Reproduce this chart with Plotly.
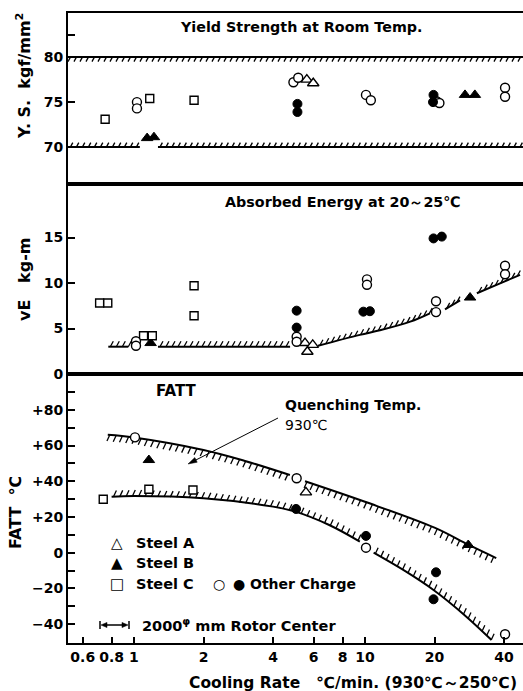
import numpy as np
import plotly.graph_objects as go

# ---------------- data ----------------
X_TICKS = [0.6, 0.8, 1, 2, 4, 6, 8, 10, 20, 40]
X_TICK_TEXT = ["0.6", "0.8", "1", "2", "4", "6", "8", "10", "20", "40"]

YS_TICKS = [70, 75, 80]
YS_TICK_TEXT = ["70", "75", "80"]
YS_MINOR = [82.5]
VE_TICKS = [0, 5, 10, 15]
VE_TICK_TEXT = ["0", "5", "10", "15"]
FATT_TICKS = [-40, -20, 0, 20, 40, 60, 80]
FATT_TICK_TEXT = ["\u221240", "\u221220", "0", "+20", "+40", "+60", "+80"]
FATT_MINOR = [-30, -10, 10, 30, 50, 70, 90]

# Panel 1 : yield strength (kgf/mm2)
YS_A_X = [5.6, 5.97]
YS_A_Y = [77.5, 77.1]
YS_B_X = [1.14, 1.22, 27.1, 29.9]
YS_B_Y = [71.0, 71.1, 75.8, 75.8]
YS_C_X = [0.75, 1.17, 1.82]
YS_C_Y = [73.1, 75.4, 75.2]
YS_OPEN_X = [1.03, 1.03, 4.9, 5.14, 10.1, 10.6, 20.4, 21.0, 40.4, 40.4]
YS_OPEN_Y = [75.0, 74.3, 77.2, 77.7, 75.8, 75.2, 75.1, 74.9, 76.6, 75.6]
YS_FILL_X = [5.1, 5.1, 19.8, 19.7]
YS_FILL_Y = [74.8, 73.9, 75.8, 75.0]
YS_UPPER = 80
YS_LOWER = 70
YS_UPPER_SEGS = [[0.52, 48.3]]
YS_LOWER_SEGS = [[0.52, 1.06], [1.27, 48.3]]

# Panel 2 : absorbed energy (kg-m)
VE_A_X = [5.5, 5.94, 5.63]
VE_A_Y = [3.4, 3.2, 2.45]
VE_B_X = [1.18, 28.5]
VE_B_Y = [3.4, 8.4]
VE_C_X = [0.71, 0.77, 1.10, 1.20, 1.82, 1.82]
VE_C_Y = [7.8, 7.8, 4.2, 4.2, 9.7, 6.4]
VE_OPEN_X = [1.02, 1.02, 5.06, 5.06, 10.2, 10.2, 20.3, 20.3, 40.4, 40.4]
VE_OPEN_Y = [3.6, 3.1, 4.1, 3.55, 10.4, 9.8, 8.0, 6.8, 11.9, 10.96]
VE_FILL_X = [5.06, 5.06, 9.84, 10.5, 19.8, 21.5]
VE_FILL_Y = [6.96, 5.1, 6.85, 6.9, 14.9, 15.1]
VE_LIMIT_SEGS = [
    ([0.774, 0.945], [3.0, 3.0]),
    ([1.27, 4.74], [3.0, 3.0]),
    ([6.26, 9.5, 11.6, 15.7, 19.1], [3.1, 4.3, 4.8, 5.75, 6.67]),
    ([22.2, 25.8], [7.1, 8.1]),
    ([30.5, 38.0, 46.9], [8.87, 9.9, 10.9]),
]

# Panel 3 : FATT (deg C)
FATT_A_X = [5.55]
FATT_A_Y = [33.8]
FATT_B_X = [1.16, 28.0]
FATT_B_Y = [51.9, 4.3]
FATT_C_X = [0.736, 1.16, 1.80]
FATT_C_Y = [29.9, 35.5, 35.1]
FATT_OPEN_X = [1.01, 5.06, 10.1, 40.4]
FATT_OPEN_Y = [64.6, 41.7, 2.8, -45.7]
FATT_FILL_X = [5.03, 10.1, 20.3, 19.8]
FATT_FILL_Y = [24.5, 9.4, -11.0, -26.1]
FATT_UPPER_SEGS = [
    ([0.77, 1.0, 2.0, 3.0, 4.73], [66.0, 64.5, 57.5, 51.5, 43.5]),
    ([5.5, 10.0, 20.0, 28.0, 37.0], [40.0, 28.5, 14.0, 4.5, -3.0]),
]
FATT_LOWER_SEGS = [
    ([0.80, 1.0, 2.0, 4.0, 5.0, 7.0, 9.5], [31.4, 31.8, 30.5, 25.8, 23.0, 15.5, 6.2]),
    ([10.9, 15.0, 19.8, 27.0, 35.3], [0.0, -10.5, -20.9, -35.0, -48.9]),
]

# ---------------- geometry ----------------
FIG_W, FIG_H = 523, 691
ML, MR, MT, MB = 68, 0, 13, 48
PW = FIG_W - ML - MR
PH = FIG_H - MT - MB
DEC = 231.0  # px per decade
XR = [np.log10(0.518), np.log10(0.518) + PW / DEC]

# (top px, bottom px, low value, high value)
PAN1 = (13, 184, 65.9, 84.9)
PAN2 = (184, 374, 0.0, 20.88)
PAN3 = (374, 643, -50.6, 100.1)

FONT = "DejaVu Sans"


def dom(p):
    return [(FIG_H - MB - p[1]) / PH, (FIG_H - MB - p[0]) / PH]


def px_x(x):
    return ML + (np.log10(x) - XR[0]) / (XR[1] - XR[0]) * PW


def x_px(px):
    return 10 ** (XR[0] + (px - ML) / PW * (XR[1] - XR[0]))


def py_y(y, p):
    top, bot, lo, hi = p
    return bot - (y - lo) / (hi - lo) * (bot - top)


def y_py(py, p):
    top, bot, lo, hi = p
    return lo + (bot - py) / (bot - top) * (hi - lo)


def hatch(xs, ys, p, side, spacing=6.3, dx=2.6, dy=5.0, start=2.0):
    P = np.array([[px_x(x), py_y(y, p)] for x, y in zip(xs, ys)])
    d = np.hypot(*np.diff(P, axis=0).T)
    cum = np.concatenate([[0], np.cumsum(d)])
    s = np.arange(start, cum[-1], spacing)
    hx = np.interp(s, cum, P[:, 0])
    hy = np.interp(s, cum, P[:, 1])
    sg = 1 if side == "above" else -1
    X, Y = [], []
    for a, b in zip(hx, hy):
        X += [x_px(a), x_px(a + sg * dx), None]
        Y += [y_py(b, p), y_py(b - sg * dy, p), None]
    return X, Y


fig = go.Figure()

AX = {1: ("x", "y", PAN1), 2: ("x2", "y2", PAN2), 3: ("x3", "y3", PAN3)}


def add_curve(xs, ys, k, side, spacing, dx, dy, shape="spline"):
    xa, ya, p = AX[k]
    fig.add_trace(go.Scatter(x=xs, y=ys, mode="lines", xaxis=xa, yaxis=ya,
                             line=dict(color="black", width=2, shape=shape),
                             hoverinfo="skip", showlegend=False))
    hx, hy = hatch(xs, ys, p, side, spacing, dx, dy)
    fig.add_trace(go.Scatter(x=hx, y=hy, mode="lines", xaxis=xa, yaxis=ya,
                             line=dict(color="black", width=1.3),
                             hoverinfo="skip", showlegend=False))


# panel 1 limits
for seg in YS_UPPER_SEGS:
    add_curve(seg, [YS_UPPER] * len(seg), 1, "below", 6.0, 2.4, 4.5, "linear")
for seg in YS_LOWER_SEGS:
    add_curve(seg, [YS_LOWER] * len(seg), 1, "above", 6.0, 2.4, 4.5, "linear")
# panel 2 limit
for sx, sy in VE_LIMIT_SEGS:
    add_curve(sx, sy, 2, "above", 6.0, 3.0, 5.5)
# panel 3 limits
for sx, sy in FATT_UPPER_SEGS:
    add_curve(sx, sy, 3, "below", 6.3, 2.8, 6.0)
for sx, sy in FATT_LOWER_SEGS:
    add_curve(sx, sy, 3, "above", 6.3, 2.8, 6.0)

OPEN = dict(color="white", line=dict(color="black", width=1.4))
FILL = dict(color="black", line=dict(color="black", width=1))
STY = {
    "A": dict(symbol="triangle-up", size=10, **OPEN),
    "B": dict(symbol="triangle-up", size=10, **FILL),
    "C": dict(symbol="square", size=8, **OPEN),
    "O": dict(symbol="circle", size=9, **OPEN),
    "F": dict(symbol="circle", size=9, **FILL),
}

SERIES = {
    1: [("A", YS_A_X, YS_A_Y), ("B", YS_B_X, YS_B_Y), ("C", YS_C_X, YS_C_Y),
        ("O", YS_OPEN_X, YS_OPEN_Y), ("F", YS_FILL_X, YS_FILL_Y)],
    2: [("A", VE_A_X, VE_A_Y), ("B", VE_B_X, VE_B_Y), ("C", VE_C_X, VE_C_Y),
        ("O", VE_OPEN_X, VE_OPEN_Y), ("F", VE_FILL_X, VE_FILL_Y)],
    3: [("A", FATT_A_X, FATT_A_Y), ("B", FATT_B_X, FATT_B_Y), ("C", FATT_C_X, FATT_C_Y),
        ("O", FATT_OPEN_X, FATT_OPEN_Y), ("F", FATT_FILL_X, FATT_FILL_Y)],
}
for k, lst in SERIES.items():
    xa, ya, _ = AX[k]
    for key, xs, ys in lst:
        fig.add_trace(go.Scatter(x=xs, y=ys, mode="markers", xaxis=xa, yaxis=ya,
                                 marker=STY[key], showlegend=False, cliponaxis=False))

TICKFONT = dict(family=FONT, size=14, color="black", weight="bold")
MINOR = dict(ticks="inside", ticklen=7, tickwidth=1.5, tickcolor="black", showgrid=False)
common_x = dict(type="log", range=XR, showgrid=False, zeroline=False, showline=True,
                linecolor="black", linewidth=2, mirror=True, domain=[0, 1])
common_y = dict(showgrid=False, zeroline=False, showline=True, linecolor="black",
                linewidth=2, ticks="inside", ticklen=7, tickwidth=1.5, tickcolor="black",
                tickfont=TICKFONT)

fig.update_layout(
    width=FIG_W, height=FIG_H,
    margin=dict(l=ML, r=MR, t=MT, b=MB),
    paper_bgcolor="white", plot_bgcolor="white",
    showlegend=False,
    xaxis=dict(**common_x, anchor="y", ticks="", showticklabels=False),
    xaxis2=dict(**common_x, anchor="y2", ticks="", showticklabels=False),
    xaxis3=dict(**common_x, anchor="y3", ticks="inside", ticklen=6, tickwidth=1.5,
                tickcolor="black", tickvals=X_TICKS, ticktext=X_TICK_TEXT, tickfont=TICKFONT),
    yaxis=dict(**common_y, anchor="x", domain=dom(PAN1), range=[PAN1[2], PAN1[3]],
               tickvals=YS_TICKS, ticktext=YS_TICK_TEXT,
               minor=dict(**MINOR, tickmode="array", tickvals=YS_MINOR)),
    yaxis2=dict(**common_y, anchor="x2", domain=dom(PAN2), range=[PAN2[2], PAN2[3]],
                tickvals=VE_TICKS, ticktext=VE_TICK_TEXT),
    yaxis3=dict(**common_y, anchor="x3", domain=dom(PAN3), range=[PAN3[2], PAN3[3]],
                tickvals=FATT_TICKS, ticktext=FATT_TICK_TEXT,
                minor=dict(**MINOR, tickmode="array", tickvals=FATT_MINOR)),
)


def pxp(px):
    return (px - ML) / PW


def pyp(py):
    return (FIG_H - MB - py) / PH


def ann(text, px, py, size=13, xanchor="center", bold=True, angle=0):
    return dict(text=text, x=pxp(px), y=pyp(py), xref="paper", yref="paper",
                showarrow=False, xanchor=xanchor, yanchor="middle", textangle=angle,
                font=dict(family=FONT, size=size, color="black",
                          weight="bold" if bold else "normal"))


anns = [
    ann("Yield Strength at Room Temp.", 301, 27, 14.3),
    ann("Absorbed Energy at 20\uff5e25\u2103", 343, 202, 14.3),
    ann("FATT", 176, 391, 15),
    ann("Quenching Temp.", 283, 405, 14, "left"),
    ann("930\u2103", 283, 425, 14, "left", bold=False),
    ann("\u25b3", 117, 543, 15),
    ann("\u25b2", 117, 563, 15),
    ann("\u25a1", 117, 584, 15),
    ann("\u25cb", 219, 584, 14),
    ann("\u25cf", 239, 584, 14),
    ann("Steel A", 134, 543, 14.5, "left"),
    ann("Steel B", 134, 563, 14.5, "left"),
    ann("Steel C", 134, 584, 14.5, "left"),
    ann("Other Charge", 248, 584, 14, "left"),
    ann("2000<sup>\u03c6</sup> mm Rotor Center", 140, 625, 14.5, "left"),
    ann("Cooling Rate   \u2103/min. (930\u2103\uff5e250\u2103)", 187, 683, 15.5, "left"),
    ann("Y. S.  kgf/mm<sup>2</sup>", 24, 76, 16, angle=-90),
    ann("vE   kg-m", 24, 280, 16, angle=-90),
    ann("FATT  \u2103", 15, 513, 16, angle=-90),
]
fig.update_layout(annotations=anns)


def line_shape(x0, y0, x1, y1, w=1.0):
    return dict(type="line", xref="paper", yref="paper",
                x0=pxp(x0), y0=pyp(y0), x1=pxp(x1), y1=pyp(y1),
                line=dict(color="black", width=w))


def head_shape(hx, hy, tx, ty, length=8.0, half=3.0):
    u = np.array([hx - tx, hy - ty], dtype=float)
    u /= np.hypot(*u)
    n = np.array([-u[1], u[0]])
    b = np.array([hx, hy]) - u * length
    p1 = b + n * half
    p2 = b - n * half
    path = "M {:.5f},{:.5f} L {:.5f},{:.5f} L {:.5f},{:.5f} Z".format(
        pxp(hx), pyp(hy), pxp(p1[0]), pyp(p1[1]), pxp(p2[0]), pyp(p2[1]))
    return dict(type="path", xref="paper", yref="paper", path=path,
                fillcolor="black", line=dict(color="black", width=0.5))


shapes = [
    # arrow towards the quenching-temperature curve
    line_shape(278, 418, 191, 462.5, 1.0),
    head_shape(188, 464, 278, 418, 9, 2.6),
    # rotor center range
    line_shape(104, 625, 125, 625, 1.5),
    head_shape(101, 625, 129, 625, 6, 2.6),
    head_shape(128, 625, 100, 625, 6, 2.6),
    line_shape(100, 621, 100, 629, 1.5),
    line_shape(129, 621, 129, 629, 1.5),
]
fig.update_layout(shapes=shapes)

fig.write_html("out.html")
